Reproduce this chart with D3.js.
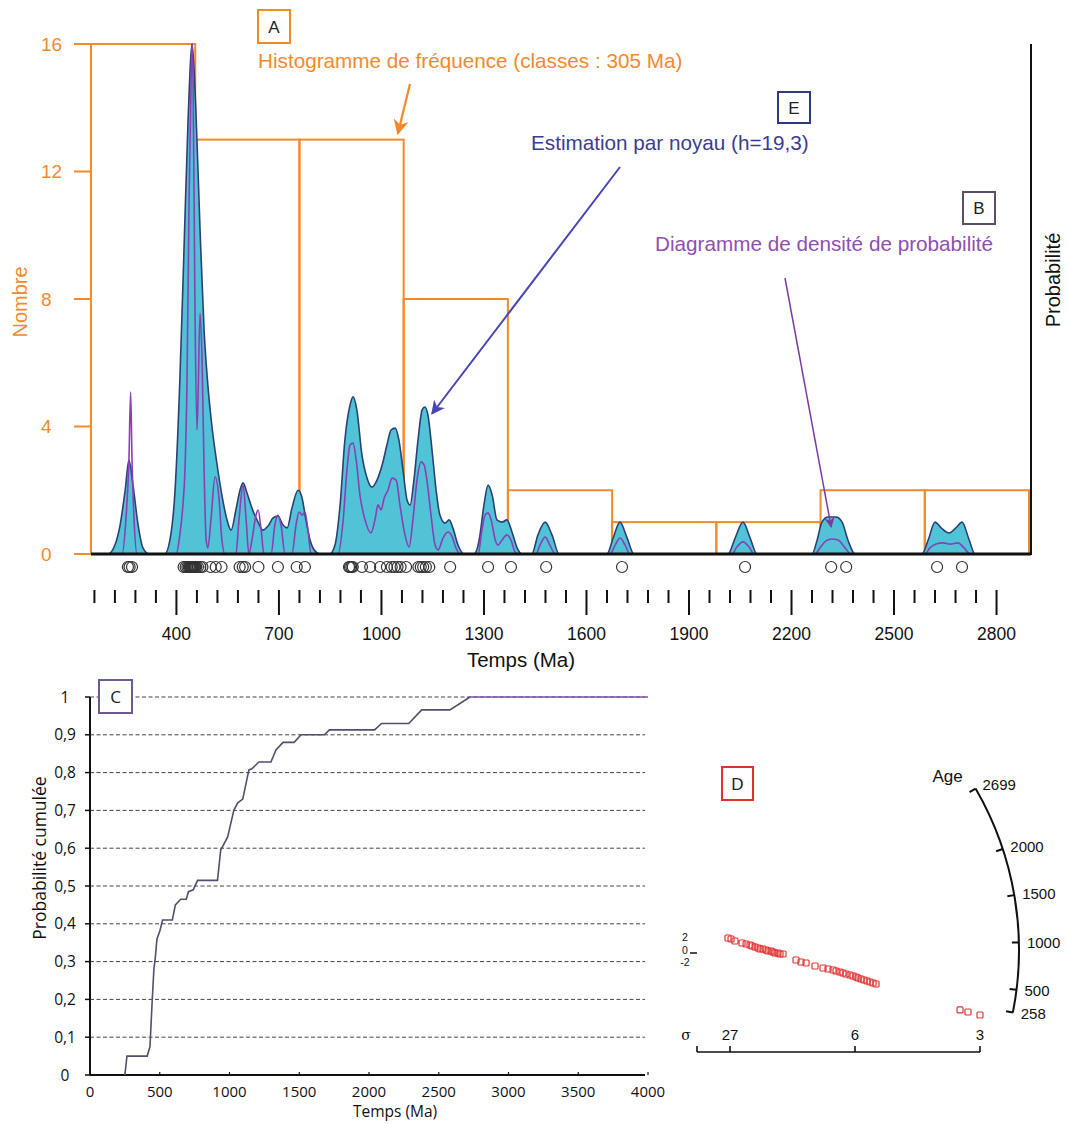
<!DOCTYPE html>
<html><head><meta charset="utf-8">
<script src="https://cdn.jsdelivr.net/npm/d3@7"></script>
<style>
body{margin:0;background:#fff;}
svg{display:block;}
</style></head><body>
<svg id="c" width="1067" height="1124"></svg>
<script>
// ---------------- DATA ----------------
// Panel A : histogram (classes of 305 Ma starting at 150 Ma)
const histStart = 150;
const histWidth = 305;
const histCounts = [16, 13, 13, 8, 2, 1, 1, 2, 2];
const nombreTicks = [0, 4, 8, 12, 16];

// individual ages (Ma) shown as circles
const ages = [258, 263, 270, 421, 427, 432, 436, 439, 441, 443, 445, 447, 449, 451, 453, 455,
  458, 463, 470, 476, 500, 515, 532, 585, 594, 601, 640, 697, 752,
  776, 905, 908, 912, 916, 943, 967, 996, 1016, 1030, 1038, 1047, 1056,
  1072, 1108, 1115, 1122, 1130, 1140, 1201, 1312,
  1379, 1482, 1704, 2064, 2316, 2360, 2626, 2699];

// E : kernel density estimate [age, relative value]
const kde = [[150,0],[200,0],[220,0.28],[235,0.9],[250,2.0],[261,2.95],[273,2.15],[288,0.9],[302,0.19],[320,0],
  [366,0],[381,0.44],[396,2.0],[410,5.45],[422,9.5],[434,13.6],[446,16],[457,13.9],[469,10.2],[481,7.0],[492,5.3],
  [504,4.0],[519,2.8],[533,1.85],[548,1.07],[560,0.75],[574,1.38],[586,2.0],[595,2.23],[607,1.9],[621,1.44],
  [639,1.0],[653,0.75],[668,0.88],[683,1.13],[697,1.19],[712,0.91],[724,0.82],[738,1.44],[756,2.0],[767,1.79],
  [779,1.07],[791,0.44],[806,0.09],[820,0],
  [849,0],[864,0.28],[879,1.54],[893,3.58],[908,4.67],[917,4.93],[928,4.52],[943,3.1],[958,2.38],[972,2.1],
  [987,2.32],[1002,2.79],[1016,3.42],[1028,3.89],[1040,3.95],[1051,3.58],[1063,2.64],[1075,1.69],[1084,1.54],
  [1095,2.32],[1107,3.58],[1119,4.52],[1127,4.61],[1136,4.36],[1148,3.26],[1160,2.0],[1171,1.22],[1186,0.97],
  [1198,1.07],[1209,0.82],[1224,0.28],[1242,0],
  [1271,0],[1286,0.44],[1300,1.54],[1312,2.16],[1324,1.85],[1338,1.07],[1353,1.0],[1367,1.07],[1382,0.69],
  [1397,0.19],[1411,0],
  [1440,0],[1458,0.6],[1479,1.0],[1499,0.6],[1520,0],
  [1660,0],[1678,0.5],[1698,1.0],[1719,0.5],[1739,0],
  [2014,0],[2035,0.5],[2058,1.0],[2079,0.5],[2099,0],
  [2260,0],[2275,0.44],[2289,1.0],[2307,1.16],[2330,1.16],[2348,1.0],[2365,0.44],[2386,0],
  [2582,0],[2600,0.44],[2620,1.0],[2638,0.82],[2661,0.66],[2681,0.82],[2699,1.0],[2720,0.44],[2737,0],
  [2895,0]];

// B : probability density plot [age, relative value]
const pdp = [[150,0],[241,0],[252,1.07],[261,2.95],[266,5.08],[270,2.95],[276,1.07],[285,0],
  [399,0],[410,0.6],[419,1.54],[425,2.64],[431,5.46],[437,11.1],[443,14.9],[446,16],[449,14.6],[454,8.0],
  [460,3.9],[463,4.8],[469,7.56],[475,6.1],[481,2.6],[487,0.44],[492,0.19],[501,1.07],[513,2.42],[525,1.69],
  [533,0.44],[542,0],[574,0],[583,1.07],[595,2.16],[604,1.07],[612,0],[621,0.44],[633,1.22],[639,1.38],
  [648,0.75],[656,0],[677,0],[688,0.91],[697,1.22],[706,0.91],[718,0],[738,0],[750,0.91],[759,1.32],
  [768,1.22],[776,1.32],[785,0.75],[794,0],
  [873,0],[888,1.07],[899,2.64],[908,3.42],[917,3.48],[926,2.95],[937,1.85],[952,1.07],[969,0.66],[981,1.07],
  [990,1.54],[999,1.38],[1008,1.76],[1019,2.0],[1031,2.38],[1043,2.32],[1054,1.54],[1066,0.75],[1081,0.22],
  [1092,1.07],[1104,2.32],[1116,2.89],[1125,2.79],[1133,2.32],[1145,1.22],[1157,0.28],[1166,0.13],[1180,0.5],
  [1195,0.69],[1206,0.56],[1218,0.19],[1230,0],
  [1283,0],[1294,0.75],[1303,1.22],[1312,1.29],[1321,1.07],[1333,0.44],[1341,0.28],[1353,0.44],[1367,0.6],
  [1379,0.44],[1391,0.06],[1400,0],
  [1452,0],[1464,0.28],[1479,0.53],[1493,0.28],[1508,0],
  [1669,0],[1684,0.28],[1698,0.5],[1713,0.28],[1727,0],
  [2026,0],[2040,0.22],[2058,0.38],[2076,0.22],[2090,0],
  [2269,0],[2283,0.19],[2301,0.41],[2318,0.47],[2336,0.44],[2357,0.19],[2374,0],
  [2591,0],[2605,0.19],[2623,0.31],[2643,0.35],[2664,0.31],[2687,0.35],[2705,0.19],[2722,0],
  [2895,0]];

const tempsMajorTicks = [400, 700, 1000, 1300, 1600, 1900, 2200, 2500, 2800];
const tempsMinorStep = 60;

// C : cumulative probability [age, p]
const cdf = [[250,0],[265,0.05],[410,0.05],[430,0.075],[445,0.19],[458,0.28],[468,0.31],[480,0.36],[500,0.38],
  [520,0.41],[590,0.41],[612,0.45],[650,0.465],[690,0.465],[706,0.485],[740,0.49],[771,0.515],[914,0.515],
  [937,0.595],[987,0.63],[1031,0.70],[1059,0.72],[1095,0.73],[1139,0.807],[1160,0.81],[1211,0.828],
  [1297,0.828],[1333,0.86],[1384,0.88],[1463,0.88],[1513,0.9],[1680,0.9],[1716,0.913],[2040,0.913],
  [2090,0.93],[2285,0.93],[2378,0.966],[2580,0.966],[2724,1.0]];
const cdfEnd = 4000;
const cdfYTicks = [0, 0.1, 0.2, 0.3, 0.4, 0.5, 0.6, 0.7, 0.8, 0.9, 1];
const cdfXTicks = [0, 500, 1000, 1500, 2000, 2500, 3000, 3500, 4000];

// D : radial plot  [precision = 1/sigma, standardised estimate]
const radialPoints = [[0.0348,1.92],[0.0381,1.76],[0.0422,1.44],[0.0495,1.12],[0.0537,0.96],[0.0578,0.80],
  [0.0599,0.64],[0.0630,0.48],[0.0661,0.32],[0.0682,0.16],[0.0713,0.16],[0.0744,0],[0.0765,-0.16],
  [0.0796,-0.16],[0.0816,-0.32],[0.0837,-0.48],[0.0868,-0.48],[0.0889,-0.64],[0.0920,-0.64],
  [0.1055,-1.60],[0.1107,-1.92],[0.1159,-2.08],
  [0.1252,-2.56],[0.1335,-2.88],[0.1387,-3.04],[0.1439,-3.20],[0.1470,-3.36],[0.1511,-3.52],[0.1542,-3.68],
  [0.1573,-3.84],[0.1615,-4.00],[0.1646,-4.16],[0.1680,-4.32],[0.1707,-4.48],[0.1747,-4.64],[0.1787,-4.80],
  [0.1827,-4.96],[0.1867,-5.12],[0.1907,-5.28],[0.1947,-5.44],
  [0.3067,-9.59],[0.3173,-9.92],[0.3333,-10.40]];
const radialAgeTicks = [258, 500, 1000, 1500, 2000, 2699];
const sigmaTicks = [27, 6, 3];
const stdTicks = [2, 0, -2];

// ---------------- DRAWING ----------------
const svg = d3.select('#c');
svg.append('rect').attr('width',1067).attr('height',1124).attr('fill','#fff');
const F = '"Liberation Sans", Arial, Helvetica, sans-serif';
const FC = '"Open Sans", "Noto Sans", sans-serif';
const ORANGE = '#f28a2c', CYAN = '#50c3d7', NAVY = '#2b4077', PURPLE = '#8b3fb6';

const defs = svg.append('defs');
function marker(id, color){
  defs.append('marker').attr('id',id).attr('viewBox','0 0 10 10').attr('refX',9).attr('refY',5)
    .attr('markerWidth',7).attr('markerHeight',7).attr('orient','auto-start-reverse')
    .append('path').attr('d','M0,0 L10,5 L0,10 L3,5 Z').attr('fill',color);
}
marker('arO', ORANGE); marker('arN', '#4747b3'); marker('arP', '#7d3aa6');

// ===== top panel =====
const x = d3.scaleLinear().domain([histStart, histStart + histWidth*histCounts.length]).range([91, 1029]);
const y = d3.scaleLinear().domain([0, 16]).range([554, 44]);
const yP = d3.scaleLinear().domain([0, 16]).range([554, 44]);

const gTop = svg.append('g');
const bins = histCounts.map((c,i)=>({x0: histStart+i*histWidth, x1: histStart+(i+1)*histWidth, c}));
gTop.selectAll('rect.bin').data(bins).join('rect').attr('class','bin')
  .attr('x',d=>x(d.x0)).attr('y',d=>y(d.c)).attr('width',d=>x(d.x1)-x(d.x0)).attr('height',d=>y(0)-y(d.c))
  .attr('fill','none').attr('stroke',ORANGE).attr('stroke-width',2);

// orange y axis
gTop.append('line').attr('x1',x.range()[0]).attr('x2',x.range()[0]).attr('y1',y(0)).attr('y2',y(16))
  .attr('stroke',ORANGE).attr('stroke-width',2);
gTop.selectAll('line.yt').data(nombreTicks).join('line').attr('class','yt')
  .attr('x1',74).attr('x2',x.range()[0]).attr('y1',d=>y(d)).attr('y2',d=>y(d))
  .attr('stroke',ORANGE).attr('stroke-width',2);
gTop.selectAll('text.yl').data(nombreTicks).join('text').attr('class','yl')
  .attr('x',41).attr('y',d=>y(d)).attr('dy','0.36em').text(d=>d)
  .attr('font-family',F).attr('font-size',19).attr('fill',ORANGE);
gTop.append('text').attr('transform','translate(27,302) rotate(-90)').attr('text-anchor','middle')
  .attr('font-family',F).attr('font-size',20).attr('fill',ORANGE).text('Nombre');

// KDE
const area = d3.area().x(d=>x(d[0])).y0(y(0)).y1(d=>yP(d[1])).curve(d3.curveMonotoneX);
const line = d3.line().x(d=>x(d[0])).y(d=>yP(d[1])).curve(d3.curveMonotoneX);
gTop.append('path').datum(kde).attr('d',area).attr('fill',CYAN);
gTop.append('path').datum(kde).attr('d',line).attr('fill','none').attr('stroke',NAVY).attr('stroke-width',1.6);
// PDP
gTop.append('path').datum(pdp).attr('d',line).attr('fill','none').attr('stroke',PURPLE).attr('stroke-width',1.6);

// baseline & right axis
gTop.append('line').attr('x1',x.range()[0]).attr('x2',x.range()[1]+2).attr('y1',y(0)).attr('y2',y(0))
  .attr('stroke','#111').attr('stroke-width',3);
gTop.append('line').attr('x1',x.range()[1]+2).attr('x2',x.range()[1]+2).attr('y1',y(16)).attr('y2',y(0)+1)
  .attr('stroke','#111').attr('stroke-width',2);
gTop.append('text').attr('transform',`translate(${x.range()[1]+31},280) rotate(-90)`).attr('text-anchor','middle')
  .attr('font-family',F).attr('font-size',20).attr('fill','#111').text('Probabilité');

// circles
gTop.selectAll('circle.age').data(ages).join('circle').attr('class','age')
  .attr('cx',d=>x(d)).attr('cy',567).attr('r',5.5)
  .attr('fill','none').attr('stroke','#333').attr('stroke-width',1.2);

// time axis ticks
const minor = d3.range(160, 2801, tempsMinorStep);
gTop.selectAll('line.tk').data(minor).join('line').attr('class','tk')
  .attr('x1',d=>x(d)).attr('x2',d=>x(d)).attr('y1',590)
  .attr('y2',d=>tempsMajorTicks.includes(d)?615:603)
  .attr('stroke','#111').attr('stroke-width',2);
gTop.selectAll('text.tl').data(tempsMajorTicks).join('text').attr('class','tl')
  .attr('x',d=>x(d)).attr('y',640).attr('text-anchor','middle').text(d=>d)
  .attr('font-family',F).attr('font-size',17.5).attr('fill','#111');
gTop.append('text').attr('x',521).attr('y',667).attr('text-anchor','middle')
  .attr('font-family',F).attr('font-size',20.5).attr('fill','#111').text('Temps (Ma)');

// annotations
function box(g, bx, by, w, h, color, letter, font){
  g.append('rect').attr('x',bx).attr('y',by).attr('width',w).attr('height',h)
    .attr('fill','#fff').attr('stroke',color).attr('stroke-width',2);
  g.append('text').attr('x',bx+w/2).attr('y',by+h/2).attr('dy','0.36em').attr('text-anchor','middle')
    .attr('font-family',font||F).attr('font-size',17).attr('fill','#222').text(letter);
}
box(gTop, 258, 10, 32, 33, ORANGE, 'A');
gTop.append('text').attr('x',258).attr('y',68).attr('font-family',F).attr('font-size',20.7)
  .attr('fill',ORANGE).text('Histogramme de fréquence (classes : 305 Ma)');
gTop.append('line').attr('x1',410).attr('y1',84).attr('x2',x(1048)).attr('y2',y(13)-6)
  .attr('stroke',ORANGE).attr('stroke-width',2.2).attr('marker-end','url(#arO)');

box(gTop, 778, 92, 32, 31, '#2d3a80', 'E');
gTop.append('text').attr('x',531).attr('y',150).attr('font-family',F).attr('font-size',20.7)
  .attr('fill','#3c3d8e').text('Estimation par noyau (h=19,3)');
gTop.append('line').attr('x1',620).attr('y1',167).attr('x2',x(1148)).attr('y2',yP(4.4))
  .attr('stroke','#4747b3').attr('stroke-width',2).attr('marker-end','url(#arN)');

box(gTop, 963, 192, 32, 32, '#5c4d6e', 'B');
gTop.append('text').attr('x',655).attr('y',251).attr('font-family',F).attr('font-size',20.7)
  .attr('fill','#8e4fb0').text('Diagramme de densité de probabilité');
gTop.append('line').attr('x1',785).attr('y1',278).attr('x2',x(2316)).attr('y2',yP(0.85))
  .attr('stroke','#7d3aa6').attr('stroke-width',1.5).attr('marker-end','url(#arP)');

// ===== panel C =====
const xC = d3.scaleLinear().domain([0, 4000]).range([90, 648]);
const yC = d3.scaleLinear().domain([0, 1]).range([1075, 697]);
const gC = svg.append('g');
gC.selectAll('line.grid').data(cdfYTicks.filter(d=>d>0)).join('line').attr('class','grid')
  .attr('x1',xC(0)).attr('x2',xC(4000)-3).attr('y1',d=>yC(d)).attr('y2',d=>yC(d))
  .attr('stroke','#444').attr('stroke-width',1).attr('stroke-dasharray','4,2.5');
gC.append('line').attr('x1',xC(0)).attr('x2',xC(0)).attr('y1',yC(0)).attr('y2',yC(1))
  .attr('stroke','#111').attr('stroke-width',2);
gC.append('line').attr('x1',xC(0)).attr('x2',xC(4000)-3).attr('y1',yC(0)).attr('y2',yC(0))
  .attr('stroke','#111').attr('stroke-width',2);
gC.selectAll('line.yt').data(cdfYTicks).join('line').attr('class','yt')
  .attr('x1',xC(0)-5).attr('x2',xC(0)).attr('y1',d=>yC(d)).attr('y2',d=>yC(d)).attr('stroke','#111').attr('stroke-width',1.5);
gC.selectAll('line.xt').data(cdfXTicks).join('line').attr('class','xt')
  .attr('x1',d=>xC(d)).attr('x2',d=>xC(d)).attr('y1',yC(0)).attr('y2',yC(0)-3).attr('stroke','#111').attr('stroke-width',1.2);
gC.selectAll('text.yl').data(cdfYTicks).join('text').attr('class','yl')
  .attr('x',65).attr('y',d=>yC(d)).attr('dy','0.36em').attr('text-anchor','middle')
  .text(d=>String(d).replace('.',',')).attr('font-family',FC).attr('font-size',15.5).attr('fill','#111');
gC.selectAll('text.xl').data(cdfXTicks).join('text').attr('class','xl')
  .attr('x',d=>xC(d)).attr('y',1097).attr('text-anchor','middle').text(d=>d)
  .attr('font-family',FC).attr('font-size',15).attr('fill','#111');
gC.append('text').attr('x',395).attr('y',1117).attr('text-anchor','middle')
  .attr('font-family',FC).attr('font-size',15.5).attr('fill','#111').text('Temps (Ma)');
gC.append('text').attr('transform','translate(46,858) rotate(-90)').attr('text-anchor','middle')
  .attr('font-family',FC).attr('font-size',17.5).attr('fill','#111').text('Probabilité cumulée');
const lineC = d3.line().x(d=>xC(d[0])).y(d=>yC(d[1]));
gC.append('path').datum(cdf).attr('d',lineC).attr('fill','none').attr('stroke','#52506a').attr('stroke-width',1.6);
gC.append('path').datum([cdf[cdf.length-1], [cdfEnd, cdf[cdf.length-1][1]]]).attr('d',lineC)
  .attr('fill','none').attr('stroke','#7b55a8').attr('stroke-width',1.6);
box(gC, 99, 680, 33, 33, '#6e5a8e', 'C', FC);

// ===== panel D =====
const xD = d3.scaleLinear().domain([0, 1/27, 1/6, 1/3]).range([697, 730, 855, 980]);
const yD = d3.scaleLinear().domain([-2, 2]).range([962.5, 937.5]);
const gD = svg.append('g');
const cx = xD(0), cy = yD(0), R = 322;
const ang = d3.scaleLinear().domain([258, 2699]).range([11.2, -30.1]);
const rad = d=>ang(d)*Math.PI/180;
const arc = d3.path(); arc.arc(cx, cy, R, rad(258), rad(2699), true);
gD.append('path').attr('d',arc.toString()).attr('fill','none').attr('stroke','#111').attr('stroke-width',2);
gD.selectAll('line.at').data(radialAgeTicks).join('line').attr('class','at')
  .attr('x1',d=>cx+(R-7)*Math.cos(rad(d))).attr('y1',d=>cy+(R-7)*Math.sin(rad(d)))
  .attr('x2',d=>cx+R*Math.cos(rad(d))).attr('y2',d=>cy+R*Math.sin(rad(d)))
  .attr('stroke','#111').attr('stroke-width',2);
gD.selectAll('text.al').data(radialAgeTicks).join('text').attr('class','al')
  .attr('x',d=>cx+(R+8)*Math.cos(rad(d))).attr('y',d=>cy+(R+8)*Math.sin(rad(d))).attr('dy','0.36em')
  .text(d=>d).attr('font-family',F).attr('font-size',15).attr('fill','#111');
gD.append('text').attr('x',cx+R*Math.cos(rad(2699))-28).attr('y',cy+R*Math.sin(rad(2699))-7)
  .attr('text-anchor','middle').attr('font-family',F).attr('font-size',17).attr('fill','#111').text('Age');

// sigma axis
const ySig = 1052;
gD.append('line').attr('x1',xD(0)).attr('x2',xD(1/3)).attr('y1',ySig).attr('y2',ySig).attr('stroke','#111').attr('stroke-width',1.6);
gD.selectAll('line.st').data([0].concat(sigmaTicks.map(s=>1/s))).join('line').attr('class','st')
  .attr('x1',d=>xD(d)).attr('x2',d=>xD(d)).attr('y1',ySig).attr('y2',ySig-6).attr('stroke','#111').attr('stroke-width',1.6);
gD.selectAll('text.sl').data(sigmaTicks).join('text').attr('class','sl')
  .attr('x',d=>xD(1/d)).attr('y',1040).attr('text-anchor','middle').text(d=>d)
  .attr('font-family',F).attr('font-size',15).attr('fill','#111');
gD.append('text').attr('x',686).attr('y',1040).attr('text-anchor','middle')
  .attr('font-family','"DejaVu Serif", serif').attr('font-size',14).attr('fill','#111').text('σ');
// std axis
gD.selectAll('text.zl').data(stdTicks).join('text').attr('class','zl')
  .attr('x',685).attr('y',d=>yD(d)).attr('dy','0.36em').attr('text-anchor','middle').text(d=>d)
  .attr('font-family',F).attr('font-size',10.5).attr('fill','#111');
gD.append('line').attr('x1',690).attr('x2',xD(0)).attr('y1',yD(0)+3).attr('y2',yD(0)+3).attr('stroke','#111').attr('stroke-width',1.5);

gD.selectAll('rect.pt').data(radialPoints).join('rect').attr('class','pt')
  .attr('x',d=>xD(d[0])-3).attr('y',d=>yD(d[1])-3).attr('width',6).attr('height',6).attr('rx',1)
  .attr('fill','none').attr('stroke','#e03535').attr('stroke-width',1.2);
box(gD, 722, 767, 31, 33, '#e03030', 'D');
</script>
</body></html>
